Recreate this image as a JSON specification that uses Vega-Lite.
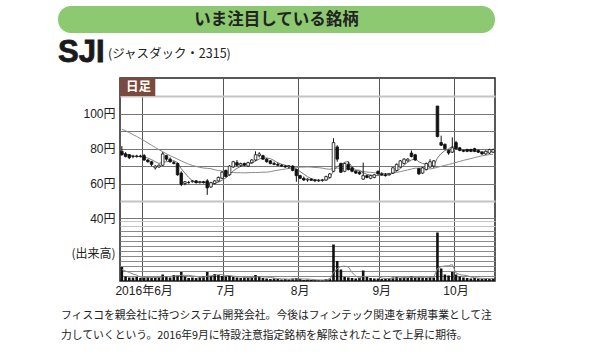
{
"$schema": "https://vega.github.io/schema/vega-lite/v6.json",
"padding": {"left": 58, "top": 6, "right": 0, "bottom": 0},
"spacing": 0,
"config": {"view": {"stroke": null}, "font": "Liberation Sans, Noto Sans CJK JP"},
"datasets": {"ohlc": [
{"d":"2016-05-24","o":78.5,"h":81.5,"l":76,"c":76.5,"v":280,"m5":77.5,"m25":91.2,"vm":230},
{"d":"2016-05-25","o":77,"h":78,"l":75,"c":75.5,"v":90,"m5":77,"m25":90.3,"vm":200},
{"d":"2016-05-26","o":76.5,"h":77,"l":74,"c":74.8,"v":70,"m5":76.3,"m25":89.2,"vm":170},
{"d":"2016-05-27","o":75.5,"h":76.5,"l":74.5,"c":75.5,"v":70,"m5":75.8,"m25":88.1,"vm":140},
{"d":"2016-05-30","o":75.5,"h":76.5,"l":74.8,"c":75.8,"v":80,"m5":75.6,"m25":87,"vm":118},
{"d":"2016-05-31","o":75.8,"h":76.5,"l":75,"c":75.5,"v":60,"m5":75.4,"m25":85.8,"vm":74},
{"d":"2016-06-01","o":76,"h":77,"l":73,"c":73.5,"v":70,"m5":75,"m25":84.6,"vm":72},
{"d":"2016-06-02","o":73.5,"h":74,"l":72,"c":72.5,"v":80,"m5":74.6,"m25":83.3,"vm":72},
{"d":"2016-06-03","o":72.5,"h":73,"l":70,"c":71,"v":60,"m5":73.7,"m25":82,"vm":70},
{"d":"2016-06-06","o":69,"h":70.5,"l":68,"c":70,"v":70,"m5":72.5,"m25":80.7,"vm":72},
{"d":"2016-06-07","o":69.5,"h":71,"l":69,"c":70.5,"v":80,"m5":71.5,"m25":79.4,"vm":72},
{"d":"2016-06-08","o":70.5,"h":78,"l":70,"c":77,"v":130,"m5":72.2,"m25":78.2,"vm":84},
{"d":"2016-06-09","o":76,"h":76.5,"l":73,"c":74,"v":90,"m5":72.5,"m25":77.1,"vm":86},
{"d":"2016-06-10","o":74,"h":75,"l":72,"c":72.5,"v":70,"m5":72.8,"m25":76,"vm":90},
{"d":"2016-06-13","o":72,"h":73,"l":71,"c":71.5,"v":120,"m5":73.1,"m25":75,"vm":98},
{"d":"2016-06-14","o":71.5,"h":72,"l":64.5,"c":65,"v":110,"m5":72,"m25":74,"vm":104},
{"d":"2016-06-15","o":66,"h":67,"l":58.5,"c":59.5,"v":180,"m5":68.5,"m25":73,"vm":114},
{"d":"2016-06-16","o":60,"h":61.5,"l":59,"c":61,"v":90,"m5":65.9,"m25":72,"vm":114},
{"d":"2016-06-17","o":60.5,"h":61.5,"l":60,"c":60.5,"v":60,"m5":63.5,"m25":71.1,"vm":112},
{"d":"2016-06-20","o":61,"h":62,"l":60.5,"c":61.5,"v":70,"m5":61.5,"m25":70.4,"vm":102},
{"d":"2016-06-21","o":61.5,"h":62,"l":60,"c":60.5,"v":60,"m5":60.6,"m25":69.8,"vm":92},
{"d":"2016-06-22","o":60.5,"h":61.5,"l":60,"c":61,"v":80,"m5":60.9,"m25":69.3,"vm":72},
{"d":"2016-06-23","o":61,"h":61.5,"l":60,"c":60.5,"v":90,"m5":60.8,"m25":68.9,"vm":72},
{"d":"2016-06-24","o":61.5,"h":62.5,"l":53.5,"c":57.5,"v":180,"m5":60.2,"m25":68.7,"vm":96},
{"d":"2016-06-27","o":58,"h":61,"l":57.5,"c":60.5,"v":100,"m5":60,"m25":68.5,"vm":102},
{"d":"2016-06-28","o":60,"h":62,"l":59.5,"c":61.5,"v":140,"m5":60.2,"m25":67.9,"vm":118},
{"d":"2016-06-29","o":61.5,"h":64,"l":61,"c":63.5,"v":120,"m5":60.7,"m25":67.5,"vm":126},
{"d":"2016-06-30","o":63,"h":67,"l":62.5,"c":66.5,"v":100,"m5":61.9,"m25":67.1,"vm":128},
{"d":"2016-07-01","o":67.5,"h":68,"l":63.5,"c":64,"v":90,"m5":63.2,"m25":66.7,"vm":110},
{"d":"2016-07-04","o":65,"h":70.5,"l":64.5,"c":70,"v":100,"m5":65.1,"m25":66.4,"vm":110},
{"d":"2016-07-05","o":69.5,"h":73,"l":69,"c":72.5,"v":80,"m5":67.3,"m25":66.3,"vm":98},
{"d":"2016-07-06","o":72,"h":73.5,"l":70,"c":70.5,"v":70,"m5":68.7,"m25":66.2,"vm":88},
{"d":"2016-07-07","o":70.5,"h":72,"l":69.5,"c":71.5,"v":60,"m5":69.8,"m25":66.2,"vm":80},
{"d":"2016-07-08","o":71.5,"h":72,"l":70,"c":70.5,"v":70,"m5":71,"m25":66.1,"vm":76},
{"d":"2016-07-11","o":70,"h":72.5,"l":69.5,"c":72,"v":60,"m5":71.4,"m25":66.2,"vm":68},
{"d":"2016-07-12","o":72,"h":74,"l":71.5,"c":73.5,"v":80,"m5":71.6,"m25":66.3,"vm":68},
{"d":"2016-07-13","o":73.5,"h":78.5,"l":73,"c":76.5,"v":120,"m5":72.8,"m25":66.3,"vm":78},
{"d":"2016-07-14","o":76,"h":78,"l":75,"c":77,"v":90,"m5":74.1,"m25":66.4,"vm":84},
{"d":"2016-07-15","o":76,"h":76.5,"l":73.5,"c":74,"v":60,"m5":74.6,"m25":66.5,"vm":82},
{"d":"2016-07-19","o":74,"h":74.5,"l":72,"c":72.5,"v":50,"m5":74.7,"m25":66.5,"vm":80},
{"d":"2016-07-20","o":73,"h":73.5,"l":71,"c":71.5,"v":40,"m5":74.3,"m25":66.8,"vm":72},
{"d":"2016-07-21","o":71.5,"h":72.5,"l":70.5,"c":71,"v":50,"m5":73.2,"m25":67.3,"vm":58},
{"d":"2016-07-22","o":71,"h":72,"l":70,"c":70.5,"v":40,"m5":71.9,"m25":67.6,"vm":48},
{"d":"2016-07-25","o":70.5,"h":71,"l":69.5,"c":70,"v":30,"m5":71.1,"m25":68,"vm":42},
{"d":"2016-07-26","o":70,"h":70.5,"l":69,"c":69.5,"v":40,"m5":70.5,"m25":68.3,"vm":40},
{"d":"2016-07-27","o":69.5,"h":70.5,"l":68.5,"c":70,"v":30,"m5":70.2,"m25":68.7,"vm":38},
{"d":"2016-07-28","o":70,"h":70.5,"l":67,"c":67.5,"v":50,"m5":69.5,"m25":69,"vm":38},
{"d":"2016-07-29","o":68,"h":68.5,"l":61,"c":64.5,"v":60,"m5":68.3,"m25":69.1,"vm":42},
{"d":"2016-08-01","o":64.5,"h":65,"l":62.5,"c":63,"v":40,"m5":66.9,"m25":69.4,"vm":44},
{"d":"2016-08-02","o":63,"h":64,"l":61.5,"c":62,"v":20,"m5":65.4,"m25":69.4,"vm":40},
{"d":"2016-08-03","o":62,"h":63,"l":61,"c":62.5,"v":30,"m5":63.9,"m25":69.5,"vm":40},
{"d":"2016-08-04","o":62.5,"h":63,"l":61.5,"c":61.8,"v":20,"m5":62.8,"m25":69.4,"vm":34},
{"d":"2016-08-05","o":62,"h":62.5,"l":61,"c":61.5,"v":20,"m5":62.2,"m25":69.2,"vm":26},
{"d":"2016-08-08","o":61.5,"h":62.5,"l":61,"c":61.8,"v":20,"m5":61.9,"m25":69.1,"vm":22},
{"d":"2016-08-09","o":61.8,"h":62.5,"l":61,"c":62,"v":20,"m5":61.9,"m25":68.8,"vm":20},
{"d":"2016-08-10","o":62,"h":64.5,"l":61.5,"c":64,"v":40,"m5":62.2,"m25":68.4,"vm":24},
{"d":"2016-08-12","o":63.5,"h":66,"l":63,"c":65.5,"v":50,"m5":63,"m25":68.2,"vm":30},
{"d":"2016-08-15","o":67,"h":86,"l":66.5,"c":83.5,"v":730,"m5":67.4,"m25":68.7,"vm":172},
{"d":"2016-08-16","o":81,"h":82,"l":72.5,"c":74,"v":400,"m5":69.8,"m25":68.9,"vm":248},
{"d":"2016-08-17","o":71.5,"h":72,"l":66,"c":66.5,"v":230,"m5":70.7,"m25":68.6,"vm":290},
{"d":"2016-08-18","o":67,"h":72,"l":66.5,"c":71.5,"v":80,"m5":72.2,"m25":68.6,"vm":298},
{"d":"2016-08-19","o":71,"h":72.5,"l":67.5,"c":68,"v":70,"m5":72.7,"m25":68.2,"vm":282},
{"d":"2016-08-22","o":69,"h":69.5,"l":66.5,"c":67,"v":60,"m5":69.4,"m25":67.8,"vm":168},
{"d":"2016-08-23","o":67,"h":67.5,"l":65.5,"c":66,"v":50,"m5":67.8,"m25":67.5,"vm":98},
{"d":"2016-08-24","o":66.5,"h":67,"l":65,"c":65.5,"v":60,"m5":67.6,"m25":67.2,"vm":64},
{"d":"2016-08-25","o":62.5,"h":72,"l":62,"c":64.5,"v":210,"m5":66.2,"m25":66.9,"vm":90},
{"d":"2016-08-26","o":64.5,"h":65,"l":63,"c":63.5,"v":80,"m5":65.3,"m25":66.6,"vm":92},
{"d":"2016-08-29","o":63,"h":65,"l":62.5,"c":64.5,"v":60,"m5":64.8,"m25":66.4,"vm":92},
{"d":"2016-08-30","o":63.5,"h":65.5,"l":63,"c":65,"v":50,"m5":64.6,"m25":66.2,"vm":92},
{"d":"2016-08-31","o":67,"h":67.5,"l":65,"c":65.5,"v":50,"m5":64.6,"m25":66,"vm":92},
{"d":"2016-09-01","o":65.5,"h":66.5,"l":64.5,"c":65,"v":40,"m5":64.7,"m25":65.8,"vm":58},
{"d":"2016-09-02","o":65,"h":66,"l":64,"c":64.5,"v":50,"m5":64.9,"m25":65.7,"vm":50},
{"d":"2016-09-05","o":65,"h":66,"l":64.5,"c":65.5,"v":60,"m5":65.1,"m25":65.8,"vm":50},
{"d":"2016-09-06","o":66,"h":69.5,"l":65.5,"c":69,"v":70,"m5":65.9,"m25":66,"vm":54},
{"d":"2016-09-07","o":67.5,"h":71.5,"l":67,"c":71,"v":80,"m5":67,"m25":66.4,"vm":60},
{"d":"2016-09-08","o":69.5,"h":73.5,"l":69,"c":73,"v":60,"m5":68.6,"m25":66.8,"vm":64},
{"d":"2016-09-09","o":71.5,"h":74.5,"l":71,"c":74,"v":70,"m5":70.5,"m25":67.3,"vm":68},
{"d":"2016-09-12","o":73,"h":74.5,"l":72.5,"c":74,"v":60,"m5":72.2,"m25":67.8,"vm":68},
{"d":"2016-09-13","o":77.5,"h":79,"l":75,"c":75.5,"v":90,"m5":73.5,"m25":68.3,"vm":72},
{"d":"2016-09-14","o":76.5,"h":77,"l":73,"c":73.5,"v":70,"m5":74.2,"m25":68.8,"vm":70},
{"d":"2016-09-15","o":68.5,"h":69,"l":65,"c":65.5,"v":80,"m5":72.5,"m25":68.8,"vm":74},
{"d":"2016-09-16","o":66,"h":69.5,"l":65.5,"c":69,"v":70,"m5":71.5,"m25":69,"vm":74},
{"d":"2016-09-20","o":68,"h":72,"l":67.5,"c":71.5,"v":60,"m5":71,"m25":68.5,"vm":74},
{"d":"2016-09-21","o":69.5,"h":74,"l":69,"c":72.5,"v":80,"m5":70.4,"m25":68.4,"vm":72},
{"d":"2016-09-23","o":70,"h":73.5,"l":69,"c":73,"v":70,"m5":70.3,"m25":68.7,"vm":72},
{"d":"2016-09-26","o":104.5,"h":104.5,"l":86.5,"c":87,"v":970,"m5":74.6,"m25":69.3,"vm":250},
{"d":"2016-09-27","o":83.5,"h":87.5,"l":81.5,"c":82,"v":250,"m5":77.2,"m25":69.9,"vm":286},
{"d":"2016-09-28","o":82.5,"h":83,"l":79.5,"c":80,"v":130,"m5":78.9,"m25":70.4,"vm":300},
{"d":"2016-09-29","o":79,"h":79.5,"l":76.5,"c":77.5,"v":110,"m5":79.9,"m25":70.9,"vm":306},
{"d":"2016-09-30","o":78,"h":86.5,"l":77.5,"c":80.5,"v":180,"m5":81.4,"m25":71.5,"vm":328},
{"d":"2016-10-03","o":83.5,"h":84.5,"l":79.5,"c":80,"v":130,"m5":80,"m25":72.1,"vm":160},
{"d":"2016-10-04","o":80.5,"h":81,"l":78.5,"c":79,"v":90,"m5":79.4,"m25":72.7,"vm":128},
{"d":"2016-10-05","o":79,"h":79.5,"l":78,"c":78.5,"v":70,"m5":79.1,"m25":73.3,"vm":116},
{"d":"2016-10-06","o":79.5,"h":80,"l":78,"c":78.5,"v":60,"m5":79.3,"m25":73.8,"vm":106},
{"d":"2016-10-07","o":79.5,"h":80,"l":78,"c":78.5,"v":50,"m5":78.9,"m25":74.3,"vm":80},
{"d":"2016-10-11","o":80,"h":80.5,"l":78,"c":78.5,"v":60,"m5":78.6,"m25":74.9,"vm":66},
{"d":"2016-10-12","o":79,"h":79.5,"l":77.5,"c":78,"v":50,"m5":78.4,"m25":75.4,"vm":58},
{"d":"2016-10-13","o":78,"h":78.5,"l":76.5,"c":77,"v":40,"m5":78.1,"m25":75.9,"vm":52},
{"d":"2016-10-14","o":77,"h":79,"l":76.5,"c":78.5,"v":50,"m5":78.1,"m25":76.2,"vm":50},
{"d":"2016-10-17","o":77.5,"h":80,"l":77,"c":79.5,"v":40,"m5":78.3,"m25":76.6,"vm":48},
{"d":"2016-10-18","o":78,"h":80,"l":77.5,"c":79.5,"v":50,"m5":78.5,"m25":76.8,"vm":48}
]},
"vconcat": [
{
 "width": 437, "height": 27,
 "data": {"values": [{"label": "いま注目している銘柄"}]},
 "layer": [
  {"mark": {"type": "rect", "fill": "#8dc971", "cornerRadius": 13}},
  {"mark": {"type": "text", "font": "Noto Sans CJK JP", "fontWeight": "bold", "fontSize": 16.5, "color": "#222222"}, "encoding": {"text": {"field": "label"}}}
 ]
},
{
 "width": 437, "height": 44,
 "data": {"values": [{"code": "SJI", "market": "(ジャスダック・2315)"}]},
 "layer": [
  {"mark": {"type": "text", "x": 0, "align": "left", "baseline": "alphabetic", "dy": 7, "font": "Liberation Sans", "fontWeight": "bold", "fontSize": 31, "color": "#1a1a1a", "stroke": "#1a1a1a", "strokeWidth": 0.8}, "encoding": {"text": {"field": "code"}}},
  {"mark": {"type": "text", "x": 50, "align": "left", "baseline": "middle", "dy": -1, "font": "Noto Sans CJK JP", "fontSize": 12.5, "color": "#222222"}, "encoding": {"text": {"field": "market"}}}
 ]
},
{
 "spacing": 0,
 "hconcat": [
  {"width": 12, "height": 203, "data": {"values": []}, "mark": "rect"},
  {
   "width": 375, "height": 203,
   "view": {"stroke": "#222222", "strokeWidth": 1.5},
   "data": {"name": "ohlc"},
   "encoding": {"x": {"field": "d", "type": "ordinal", "sort": null,
     "scale": {"paddingInner": 0, "paddingOuter": 0},
     "axis": {"values": ["2016-06-01","2016-07-01","2016-08-01","2016-09-01","2016-10-03"],
       "labelExpr": "datum.value == '2016-06-01' ? '2016年6月' : datum.value == '2016-07-01' ? '7月' : datum.value == '2016-08-01' ? '8月' : datum.value == '2016-09-01' ? '9月' : '10月'",
       "bandPosition": 0, "grid": true, "gridColor": "#555555", "gridWidth": 1, "ticks": false, "tickSize": 0, "domain": false, "title": null,
       "labelAngle": 0, "labelFontSize": 12, "labelPadding": 4, "labelColor": "#222222", "labelOverlap": false, "labelBound": false,
       "labelFont": "Liberation Sans, Noto Sans CJK JP"}}},
   "layer": [
    {"mark": {"type": "line", "color": "#8a8a8a", "strokeWidth": 1},
     "encoding": {"y": {"field": "m25", "type": "quantitative",
       "scale": {"domain": [4, 120.6], "nice": false, "zero": false},
       "axis": {"orient": "left", "values": [40,50,60,70,80,90,100,110],
         "labelExpr": "datum.value % 20 == 0 ? datum.value + '円' : ''",
         "grid": true,
         "gridColor": {"condition": {"test": "datum.value == 50 || datum.value == 110", "value": "#c4c4c4"}, "value": "#777777"},
         "gridWidth": {"condition": {"test": "datum.value == 50 || datum.value == 110", "value": 2}, "value": 1},
         "ticks": false, "tickSize": 0, "domain": false, "title": null,
         "labelFontSize": 12, "labelPadding": 5, "labelColor": "#222222", "labelFont": "Liberation Sans, Noto Sans CJK JP"}}}},
    {"mark": {"type": "line", "color": "#666666", "strokeWidth": 0.9},
     "encoding": {"y": {"field": "m5", "type": "quantitative", "scale": {"domain": [4, 120.6], "nice": false, "zero": false}, "axis": null}}},
    {"mark": {"type": "rule", "color": "#111111", "strokeWidth": 1},
     "encoding": {"y": {"field": "l", "type": "quantitative", "scale": {"domain": [4, 120.6], "nice": false, "zero": false}, "axis": null}, "y2": {"field": "h"}}},
    {"mark": {"type": "bar", "width": {"band": 0.7}, "stroke": "#111111", "strokeWidth": 0.8},
     "encoding": {"y": {"field": "o", "type": "quantitative", "scale": {"domain": [4, 120.6], "nice": false, "zero": false}, "axis": null}, "y2": {"field": "c"},
       "fill": {"condition": {"test": "datum.c >= datum.o", "value": "#ffffff"}, "value": "#111111"}}},
    {"mark": {"type": "bar", "width": {"band": 0.7}, "color": "#111111"},
     "encoding": {"y": {"field": "v", "type": "quantitative", "scale": {"domain": [0, 4060], "nice": false},
       "axis": {"orient": "left", "values": [100,200,300,400,500,600,700,800,900,1000,1100,1200],
         "labels": false, "ticks": false, "tickSize": 0, "domain": false, "grid": true,
         "gridColor": {"condition": {"test": "datum.value >= 1100", "value": "#c4c4c4"}, "value": "#8a8a8a"},
         "gridWidth": 1,
         "title": "(出来高)", "titleAngle": 0, "titleX": -5, "titleY": 175, "titleAlign": "right", "titleBaseline": "middle",
         "titleFontWeight": "normal", "titleFontSize": 12, "titleColor": "#222222", "titleFont": "Noto Sans CJK JP"}}}},
    {"mark": {"type": "line", "color": "#888888", "strokeWidth": 1},
     "encoding": {"y": {"field": "vm", "type": "quantitative", "scale": {"domain": [0, 4060], "nice": false}, "axis": null}}},
    {"data": {"values": [{"label": "日足"}]},
     "mark": {"type": "rect", "fill": "#7a4b3c"},
     "encoding": {"x": {"datum": "2016-05-24", "bandPosition": 0}, "x2": {"datum": "2016-06-06", "bandPosition": 0.5},
       "y": {"datum": 120.6, "type": "quantitative", "scale": {"domain": [4, 120.6], "nice": false, "zero": false}, "axis": null}, "y2": {"datum": 110.3}}},
    {"data": {"values": [{"label": "日足"}]},
     "mark": {"type": "text", "color": "#ffffff", "font": "Noto Sans CJK JP", "fontWeight": "bold", "fontSize": 12.5},
     "encoding": {"x": {"datum": "2016-05-30", "bandPosition": 1},
       "y": {"datum": 115.5, "type": "quantitative", "scale": {"domain": [4, 120.6], "nice": false, "zero": false}, "axis": null},
       "text": {"field": "label"}}}
   ],
   "resolve": {"scale": {"y": "independent"}}
  }
 ]
},
{
 "width": 437, "height": 58,
 "data": {"values": [
  {"line": 1, "text": "フィスコを親会社に持つシステム開発会社。今後はフィンテック関連を新規事業として注"},
  {"line": 2, "text": "力していくという。2016年9月に特設注意指定銘柄を解除されたことで上昇に期待。"}
 ]},
 "mark": {"type": "text", "x": 3, "align": "left", "baseline": "middle", "font": "Noto Sans CJK JP", "fontSize": 10.8, "color": "#222222"},
 "encoding": {"y": {"field": "line", "type": "ordinal", "axis": null, "scale": {"padding": 1.111}}, "text": {"field": "text"}}
}
]
}
